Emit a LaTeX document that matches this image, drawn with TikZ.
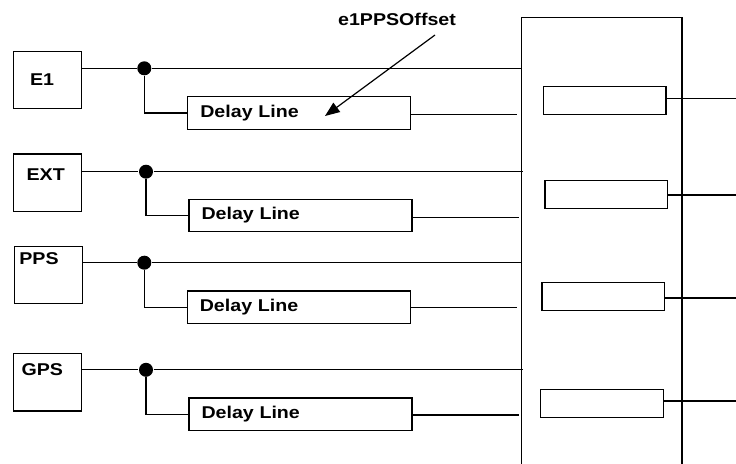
\documentclass[tikz,border=0pt]{standalone}
\usepackage{fontspec}
\setmainfont[FakeStretch=1.15]{Liberation Sans}
\usetikzlibrary{arrows.meta,calc}
\begin{document}
\begin{tikzpicture}[x=0.75pt,y=-0.75pt, line width=0.9pt,
  font=\fontsize{12.8pt}{14pt}\selectfont\bfseries,
  srcbox/.style={draw, minimum width=51pt, minimum height=43.2pt, inner sep=0pt},
  lbl/.style={inner sep=0pt, anchor=west},
  delaybox/.style={draw, minimum width=167.3pt, minimum height=24.4pt, inner xsep=9.4pt, inner ysep=0pt, text width=148.5pt, align=left},
  outbox/.style={draw, minimum width=92pt, minimum height=21pt, inner sep=0pt},
  bigbox/.style={draw, minimum width=120.2pt, minimum height=347pt, inner sep=0pt},
  dot/.style={circle, fill, inner sep=0pt, minimum size=10.5pt},
  wire/.style={draw, line width=0.9pt}]
\clip (0,0) rectangle (736,464);
\fill[white] (0,0) rectangle (736,464);

% big box
\node[bigbox] (big) at (601.85,248.5) {};

% source boxes
\node[srcbox] (e1) at (47.3,80) {};
\node[lbl] (e1t) at (29.5,80) {E1};
\node[srcbox] (ext) at (47.5,182.8) {};
\node[lbl] (extt) at (26,175) {EXT};
\node[srcbox] (pps) at (48.8,275) {};
\node[lbl] (ppst) at (18.8,258.3) {PPS};
\node[srcbox] (gps) at (47.5,382.2) {};
\node[lbl] (gpst) at (21,370) {GPS};

% junction dots
\node[dot] (d1) at (144.3,68.3) {};
\node[dot] (d2) at (146,171.7) {};
\node[dot] (d3) at (144.3,262.7) {};
\node[dot] (d4) at (146,369.8) {};

% delay boxes
\node[delaybox] (dl1) at (299.3,112.9) {Delay Line};
\node[delaybox] (dl2) at (300.5,215.5) {Delay Line};
\node[delaybox] (dl3) at (298.8,307.2) {Delay Line};
\node[delaybox] (dl4) at (300.5,414.2) {Delay Line};

% inner output boxes
\node[outbox] (o1) at (604.7,100.7) {};
\node[outbox] (o2) at (606.3,194.5) {};
\node[outbox] (o3) at (603.3,296.8) {};
\node[outbox] (o4) at (601.8,403.2) {};

% free-end coordinates
\coordinate (r1) at (736,98.3);
\coordinate (r2) at (736,195);
\coordinate (r3) at (736,298);
\coordinate (r4) at (736,401);
\coordinate (a1) at (517,114.7);
\coordinate (a2) at (519,217.3);
\coordinate (a3) at (517,307.7);
\coordinate (a4) at (519,415);

% main wires
\draw[wire] (e1.east |- d1) -- (d1) -- (big.west |- d1);
\draw[wire] (ext.east |- d2) -- (d2) -- ($(big.west |- d2)+(1.5,0)$);
\draw[wire] (pps.east |- d3) -- (d3) -- (big.west |- d3);
\draw[wire] (gps.east |- d4) -- (d4) -- ($(big.west |- d4)+(2,0)$);

% branches to delay lines
\draw[wire] (d1) |- (dl1.west);
\draw[wire] (d2) |- (dl2.west);
\draw[wire] (d3) |- (dl3.west);
\draw[wire] (d4) |- (dl4.west);

% delay outputs
\draw[wire] (dl1.east |- a1) -- (a1);
\draw[wire] (dl2.east |- a2) -- (a2);
\draw[wire] (dl3.east |- a3) -- (a3);
\draw[wire] (dl4.east |- a4) -- (a4);

% outputs
\draw[wire] (o1.east |- r1) -- (r1);
\draw[wire] (o2.east |- r2) -- (r2);
\draw[wire] (o3.east |- r3) -- (r3);
\draw[wire] (o4.east |- r4) -- (r4);

% offset label and arrow
\node[inner sep=0pt] (off) at (397,19.5) {e1PPSOffset};
\coordinate (as) at (435,35);
\coordinate (ae) at (325,116);
\draw[wire, -{Triangle[length=11pt,width=8.5pt]}] (as) -- (ae);
\end{tikzpicture}
\end{document}
